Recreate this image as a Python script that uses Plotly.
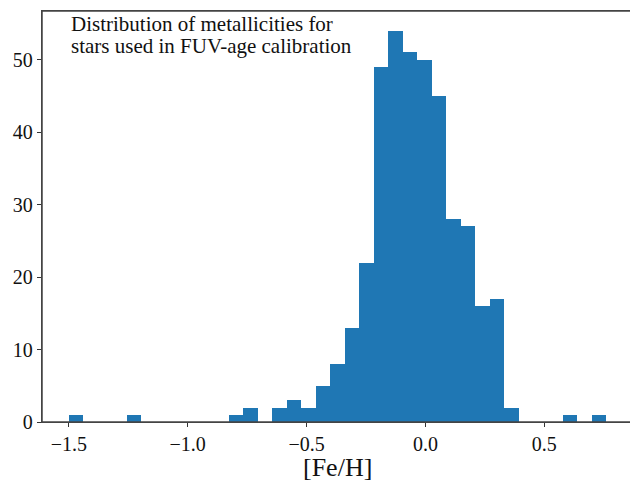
import numpy as np
import plotly.graph_objects as go

# Histogram of [Fe/H]: 37 bins spanning the data range
feh_min = -1.5
feh_max = 0.76
n_bins = 37
counts = [1, 0, 0, 0, 1, 0, 0, 0, 0, 0, 0, 1, 2, 0, 2, 3, 2, 5, 8, 13,
          22, 49, 54, 51, 50, 45, 28, 27, 16, 17, 2, 0, 0, 0, 1, 0, 1]

x_ticks = [-1.5, -1.0, -0.5, 0.0, 0.5]
x_ticklabels = ["−1.5", "−1.0", "−0.5", "0.0", "0.5"]
y_ticks = [0, 10, 20, 30, 40, 50]
y_ticklabels = ["0", "10", "20", "30", "40", "50"]

title_lines = ["Distribution of metallicities for",
               "stars used in FUV-age calibration"]
x_label = "[Fe/H]"

edges = np.linspace(feh_min, feh_max, n_bins + 1)
centers = 0.5 * (edges[:-1] + edges[1:])
widths = np.diff(edges)

font_family = "Liberation Serif, DejaVu Serif, serif"
frame_color = "#444"

fig = go.Figure()
fig.add_trace(go.Bar(
    x=centers, y=counts, width=widths,
    marker=dict(color="#1f77b4", line=dict(width=0)),
    showlegend=False,
))

span = feh_max - feh_min
x_range = [feh_min - 0.05 * span, feh_max + 0.05 * span]
y_range = [0, max(counts) * 1.05]
axis_common = dict(
    ticks="outside", ticklen=4, tickwidth=1, tickcolor="#333",
    showline=True, linecolor=frame_color, linewidth=1.3, mirror=True,
    showgrid=False, zeroline=False, automargin=False,
    tickfont=dict(size=20, color="#111"),
)
frame_axis = dict(showline=True, linecolor=frame_color, linewidth=1.3,
                  ticks="", showticklabels=False, showgrid=False,
                  zeroline=False, automargin=False)
# page body has an 8px margin, so the figure is 630x476 drawn at (8, 8)
fig.update_layout(
    width=630, height=476,
    margin=dict(l=34, r=5, t=3, b=62),
    paper_bgcolor="white", plot_bgcolor="white",
    bargap=0,
    font=dict(family=font_family, color="#111"),
    xaxis=dict(range=x_range, tickvals=x_ticks, ticktext=x_ticklabels,
               **axis_common),
    yaxis=dict(range=y_range, tickvals=y_ticks, ticktext=y_ticklabels,
               **axis_common),
    xaxis2=dict(overlaying="x", side="top", range=x_range, anchor="y",
                **frame_axis),
    yaxis2=dict(overlaying="y", side="right", range=y_range, anchor="x",
                **frame_axis),
    shapes=[dict(type="rect", xref="paper", yref="paper",
                 x0=0, y0=0, x1=1, y1=1, layer="above",
                 line=dict(color=frame_color, width=1.5))],
    annotations=[
        dict(text=title_lines[0], xref="paper", yref="paper",
             x=0.046, y=0.968, xanchor="left", yanchor="middle",
             showarrow=False, font=dict(size=21, color="#111")),
        dict(text=title_lines[1], xref="paper", yref="paper",
             x=0.046, y=0.915, xanchor="left", yanchor="middle",
             showarrow=False, font=dict(size=21, color="#111")),
        dict(text=x_label, xref="paper", yref="paper",
             x=0.5, y=-0.11, xanchor="center", yanchor="middle",
             showarrow=False, font=dict(size=26, color="#111")),
    ],
)

fig.write_html("out.html")
